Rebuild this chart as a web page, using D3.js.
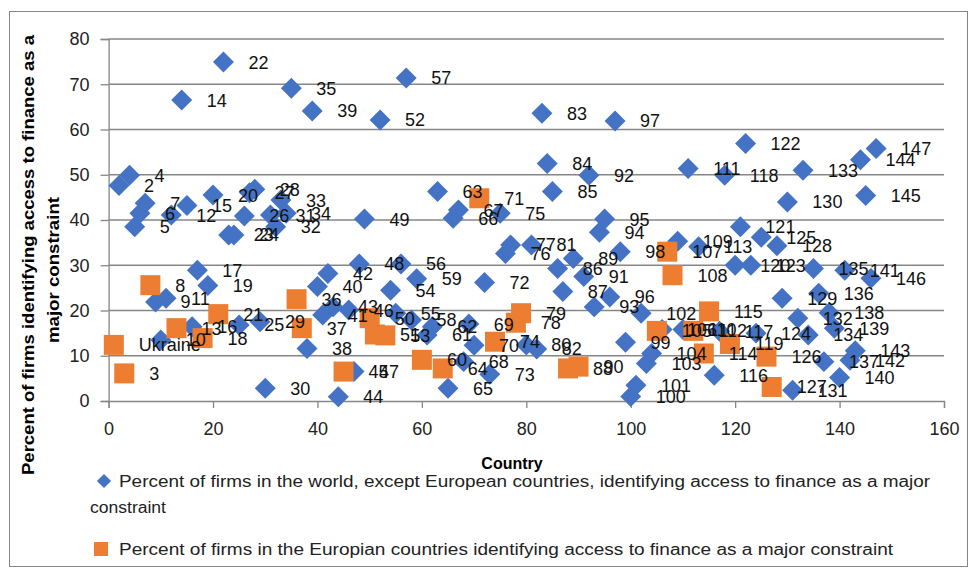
<!DOCTYPE html>
<html>
<head>
<meta charset="utf-8">
<script src="https://cdn.jsdelivr.net/npm/d3@7"></script>
<style>
  body { margin: 0; background: #fff; }
  text { font-family: "Liberation Sans", Arial, sans-serif; }
</style>
</head>
<body>
<script>
// country number and percent of firms, world except Europe (blue diamonds)
const worldCountry = [2, 4, 5, 6, 7, 9, 10, 11, 12, 14, 15, 16, 17, 19, 20, 22, 23, 24, 25, 26, 27, 28, 29, 30, 31, 32, 33, 34, 35, 38, 39, 40, 41, 42, 43, 44, 46, 47, 48, 49, 52, 54, 55, 56, 57, 58, 59, 61, 62, 63, 65, 66, 67, 68, 69, 70, 72, 73, 75, 76, 77, 80, 81, 82, 83, 84, 85, 86, 87, 89, 91, 92, 93, 94, 95, 96, 97, 98, 99, 100, 101, 102, 103, 104, 106, 109, 110, 111, 113, 116, 117, 118, 120, 121, 122, 123, 124, 125, 128, 129, 130, 131, 132, 133, 134, 135, 136, 137, 138, 139, 140, 141, 142, 143, 144, 145, 146, 147];
const worldShare = [47.6, 49.9, 38.5, 41.5, 43.7, 21.9, 13.5, 22.7, 41.1, 66.5, 43.2, 16.4, 28.9, 25.5, 45.5, 74.9, 36.7, 36.7, 16.8, 40.9, 46.0, 46.8, 17.5, 2.8, 41.1, 38.5, 44.4, 41.5, 69.1, 11.6, 64.1, 25.3, 19.0, 28.2, 20.8, 0.95, 20.1, 6.5, 30.3, 40.2, 62.1, 24.5, 19.4, 30.3, 71.4, 17.9, 27.0, 14.6, 16.4, 46.3, 2.8, 40.4, 42.2, 8.7, 17.0, 12.3, 26.2, 5.9, 41.5, 32.6, 34.5, 12.4, 34.5, 11.5, 63.6, 52.5, 46.3, 29.3, 24.2, 31.5, 27.5, 49.9, 20.8, 37.3, 40.2, 23.0, 61.9, 33.0, 13.0, 1.0, 3.5, 19.4, 8.3, 10.5, 15.8, 35.3, 15.8, 51.4, 34.1, 5.7, 15.4, 49.9, 30.0, 38.5, 56.9, 30.0, 15.0, 36.2, 34.3, 22.7, 44.0, 2.4, 18.3, 51.0, 14.6, 29.3, 23.8, 8.7, 19.5, 16.1, 5.2, 28.9, 9.0, 11.1, 53.3, 45.4, 27.1, 55.8];

// european countries (orange squares)
const europeCountry = [1, 3, 8, 13, 18, 21, 36, 37, 45, 50, 51, 53, 60, 64, 71, 74, 78, 79, 88, 90, 105, 107, 108, 112, 114, 115, 119, 126, 127];
const europeShare = [12.4, 6.1, 25.6, 16.1, 13.9, 19.2, 22.5, 16.1, 6.5, 18.3, 14.7, 14.5, 9.1, 7.2, 44.8, 13.1, 17.3, 19.4, 7.2, 7.6, 15.5, 33.0, 27.8, 15.5, 10.5, 19.8, 12.6, 9.8, 3.1];
const europeLabel = ["Ukraine", "3", "8", "13", "18", "21", "36", "37", "45", "50", "51", "53", "60", "64", "71", "74", "78", "79", "88", "90", "105", "107", "108", "112", "114", "115", "119", "126", "127"];

const xTicks = [0, 20, 40, 60, 80, 100, 120, 140, 160];
const yTicks = [0, 10, 20, 30, 40, 50, 60, 70, 80];

const w = 976;
const h = 573;
const blue = "#4472C4";
const orange = "#ED7D31";
const grid = "#868686";

const svg = d3.select("body")
    .append("svg")
    .attr("width", w)
    .attr("height", h);

// outer frame of the chart
svg.append("rect")
    .attr("x", 9.5).attr("y", 11.5)
    .attr("width", 958).attr("height", 555)
    .attr("fill", "none")
    .attr("stroke", grid);

const xScale = d3.scaleLinear().domain([0, 160]).range([108.6, 944]);
const yScale = d3.scaleLinear().domain([0, 80]).range([401, 39]);

// horizontal grid lines
svg.selectAll(".grid")
    .data(yTicks.filter(d => d > 0))
    .enter()
    .append("line")
    .attr("x1", xScale(0)).attr("x2", xScale(160))
    .attr("y1", d => yScale(d)).attr("y2", d => yScale(d))
    .attr("stroke", grid)
    .attr("stroke-width", 1.3);

// axes
const xAxis = svg.append("g")
    .attr("transform", "translate(0," + yScale(0) + ")")
    .call(d3.axisBottom(xScale).tickValues(xTicks).tickSize(7).tickPadding(14));
const yAxis = svg.append("g")
    .attr("transform", "translate(" + xScale(0) + ",0)")
    .call(d3.axisLeft(yScale).tickValues(yTicks).tickSize(8).tickPadding(11));
[xAxis, yAxis].forEach(g => {
    g.select(".domain").attr("stroke", grid).attr("stroke-width", 1.3);
    g.selectAll(".tick line").attr("stroke", grid).attr("stroke-width", 1.3);
    g.selectAll(".tick text")
        .attr("fill", "#222")
        .style("font-size", "18px");
});

// markers
const diamond = d3.symbol().type(d3.symbolSquare).size(220);
const square = d3.symbol().type(d3.symbolSquare).size(400);

const world = worldCountry.map((c, i) => ({ c: c, v: worldShare[i], label: String(c) }));
const europe = europeCountry.map((c, i) => ({ c: c, v: europeShare[i], label: europeLabel[i] }));

svg.selectAll(".world")
    .data(world)
    .enter()
    .append("path")
    .attr("d", diamond)
    .attr("transform", d => "translate(" + xScale(d.c) + "," + yScale(d.v) + ") rotate(45)")
    .attr("fill", blue);

svg.selectAll(".europe")
    .data(europe)
    .enter()
    .append("path")
    .attr("d", square)
    .attr("transform", d => "translate(" + xScale(d.c) + "," + yScale(d.v) + ")")
    .attr("fill", orange);

// data labels to the right of each marker
svg.selectAll(".lab")
    .data(world.concat(europe))
    .enter()
    .append("text")
    .attr("x", d => xScale(d.c) + 25)
    .attr("y", d => yScale(d.v))
    .attr("dy", "0.36em")
    .style("font-size", "18px")
    .attr("fill", "#111")
    .text(d => d.label);

// axis titles
svg.append("text")
    .attr("x", 512).attr("y", 463).attr("dy", "0.36em")
    .attr("text-anchor", "middle")
    .style("font-size", "16px").style("font-weight", "bold")
    .text("Country");

svg.append("text")
    .attr("transform", "translate(28,255) rotate(-90)")
    .attr("text-anchor", "middle")
    .attr("dy", "0.36em")
    .attr("textLength", 440).attr("lengthAdjust", "spacingAndGlyphs")
    .style("font-size", "16px").style("font-weight", "bold")
    .text("Percent of firms identifying access to finance as a");
svg.append("text")
    .attr("transform", "translate(53,270) rotate(-90)")
    .attr("text-anchor", "middle")
    .attr("dy", "0.36em")
    .attr("textLength", 146).attr("lengthAdjust", "spacingAndGlyphs")
    .style("font-size", "16px").style("font-weight", "bold")
    .text("major constraint");

// legend
svg.append("path")
    .attr("d", d3.symbol().type(d3.symbolSquare).size(100))
    .attr("transform", "translate(104,481) rotate(45)")
    .attr("fill", blue);
svg.append("text")
    .attr("x", 119).attr("y", 481).attr("dy", "0.36em")
    .attr("textLength", 811).attr("lengthAdjust", "spacingAndGlyphs")
    .style("font-size", "16px").attr("fill", "#222")
    .text("Percent of firms in the world, except European countries, identifying access to finance as a major");
svg.append("text")
    .attr("x", 90).attr("y", 507).attr("dy", "0.36em")
    .attr("textLength", 76).attr("lengthAdjust", "spacingAndGlyphs")
    .style("font-size", "16px").attr("fill", "#222")
    .text("constraint");

svg.append("path")
    .attr("d", d3.symbol().type(d3.symbolSquare).size(196))
    .attr("transform", "translate(101,549)")
    .attr("fill", orange);
svg.append("text")
    .attr("x", 119).attr("y", 549).attr("dy", "0.36em")
    .attr("textLength", 774).attr("lengthAdjust", "spacingAndGlyphs")
    .style("font-size", "16px").attr("fill", "#222")
    .text("Percent of firms in the Europian countries  identifying access to finance as a major constraint");
</script>
</body>
</html>
